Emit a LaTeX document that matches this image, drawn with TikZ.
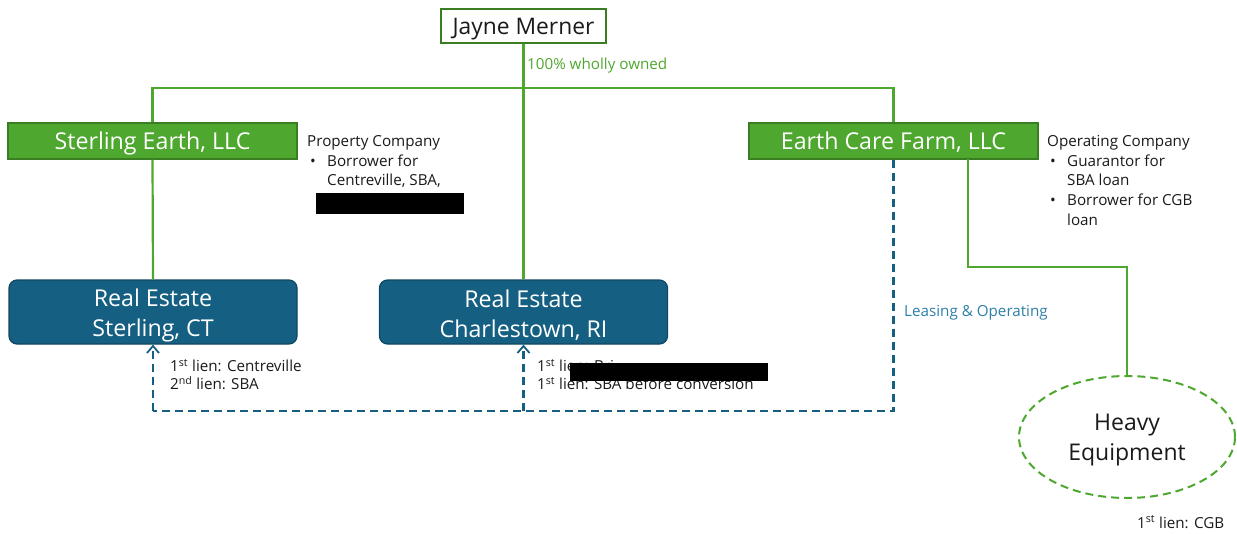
\documentclass[tikz,border=0pt]{standalone}
\usepackage{fontspec}
\setmainfont{Open Sans}
\usetikzlibrary{arrows.meta,shapes.geometric}
\definecolor{gfill}{HTML}{4EA72E}
\definecolor{gdark}{HTML}{3B7D23}
\definecolor{gtext}{HTML}{4EA72E}
\definecolor{bfill}{HTML}{156082}
\definecolor{bdark}{HTML}{0F4761}
\definecolor{btext}{HTML}{2E7FA8}
\definecolor{txt}{HTML}{1A1A1A}
\newcommand{\bul}{\makebox[20pt][l]{\hspace{3pt}\textbullet}}
\newcommand{\ind}{\hspace{20pt}}
\begin{document}
\begin{tikzpicture}[x=1pt,y=-1pt,
  topbox/.style={draw=gdark,line width=1.8pt,fill=white,minimum width=165pt,minimum height=34pt,inner sep=0pt,font=\fontsize{22.8}{26}\selectfont,text=txt,text height=16.3pt,text depth=0pt},
  llc/.style={draw=gdark,line width=1.4pt,fill=gfill,minimum width=289pt,minimum height=36pt,inner sep=0pt,font=\fontsize{23.2}{26}\selectfont,text=white,text height=16.6pt,text depth=0pt},
  re/.style={draw=bdark,line width=1.2pt,fill=bfill,rounded corners=8pt,minimum width=288pt,minimum height=64pt,inner sep=0pt,align=center,font=\fontsize{23.2}{30}\selectfont,text=white},
  eq/.style={ellipse,draw=gfill,dash pattern=on 8pt off 5pt,line width=2pt,fill=white,minimum width=216pt,minimum height=122pt,inner sep=0pt,align=center,font=\fontsize{23}{30}\selectfont,text=txt},
  gline/.style={draw=gfill,line width=2.2pt},
  dline/.style={draw=bfill,line width=2.2pt,dash pattern=on 8pt off 5pt},
  tip/.style={-{Straight Barb[length=7pt,width=12pt,line width=1.8pt]}},
  note/.style={anchor=north west,inner sep=0pt,align=left,font=\fontsize{15.2}{19.8}\selectfont,text=txt},
  lien/.style={anchor=north west,inner sep=0pt,align=left,font=\fontsize{15.2}{18.3}\selectfont,text=txt},
  lab/.style={inner sep=0pt,font=\fontsize{15.2}{17}\selectfont}
]
\useasboundingbox (0,0) rectangle (1237,533);
% nodes
\node[topbox] (jm) at (523.5,26) {Jayne Merner};
\node[llc] (se) at (152.5,141) {Sterling Earth, LLC};
\node[llc] (ec) at (893.5,141) {Earth Care Farm, LLC};
\node[re] (rs) at (153,312) {};
\node[re] (rc) at (523.5,312) {};
\node[re,draw=none,fill=none,yshift=-3pt] (rst) at (153,312) {Real Estate\\Sterling, CT};
\node[re,draw=none,fill=none,yshift=-3pt] (rct) at (523.5,312) {Real Estate\\Charlestown, RI};
\node[eq] (he) at (1127,437) {};
\node[eq,draw=none,fill=none,yshift=-3pt] (het) at (1127,437) {Heavy\\Equipment};
\coordinate (bar) at (523.5,88);
\coordinate (dl) at (153,411);
\coordinate (ecb) at (968,159);
% solid connectors
\draw[gline] (jm.south) -- (rc.north);
\draw[gline] (se.north) |- (bar) -| (ec.north);
\draw[gline] (se.south) -- (rs.north);
\draw[gline] (ecb) -- ++(0,108) -| (he.north);
% dashed connectors
\draw[dline] (ec.south) |- (dl);
\draw[dline,tip] (dl) -- (rs.south);
\draw[dline,tip] (rc.south |- dl) -- (rc.south);
% labels
\node[lab,text=gtext,anchor=west] (own) at (527,66) {100\% wholly owned};
\node[lab,text=btext,anchor=west] (lo) at (904,313) {Leasing \& Operating};
\node[note] (pc) at (307,135) {Property Company\\\bul Borrower for\\\ind Centreville, SBA,};
\node[note] (oc) at (1047,135) {Operating Company\\\bul Guarantor for\\\ind SBA loan\\\bul Borrower for CGB\\\ind loan};
\node[lien] (l1) at (170,359) {1\textsuperscript{st} lien: Centreville\\2\textsuperscript{nd} lien: SBA};
\node[lien] (l2) at (537,359) {1\textsuperscript{st} lien: Bri\\1\textsuperscript{st} lien: SBA before conversion};
\node[lab,text=txt,anchor=west] (l3) at (1137,522) {1\textsuperscript{st} lien: CGB};
% redaction boxes
\fill[black] (316,193) rectangle (464,214);
\fill[black] (570,363) rectangle (768,381);
\end{tikzpicture}
\end{document}
